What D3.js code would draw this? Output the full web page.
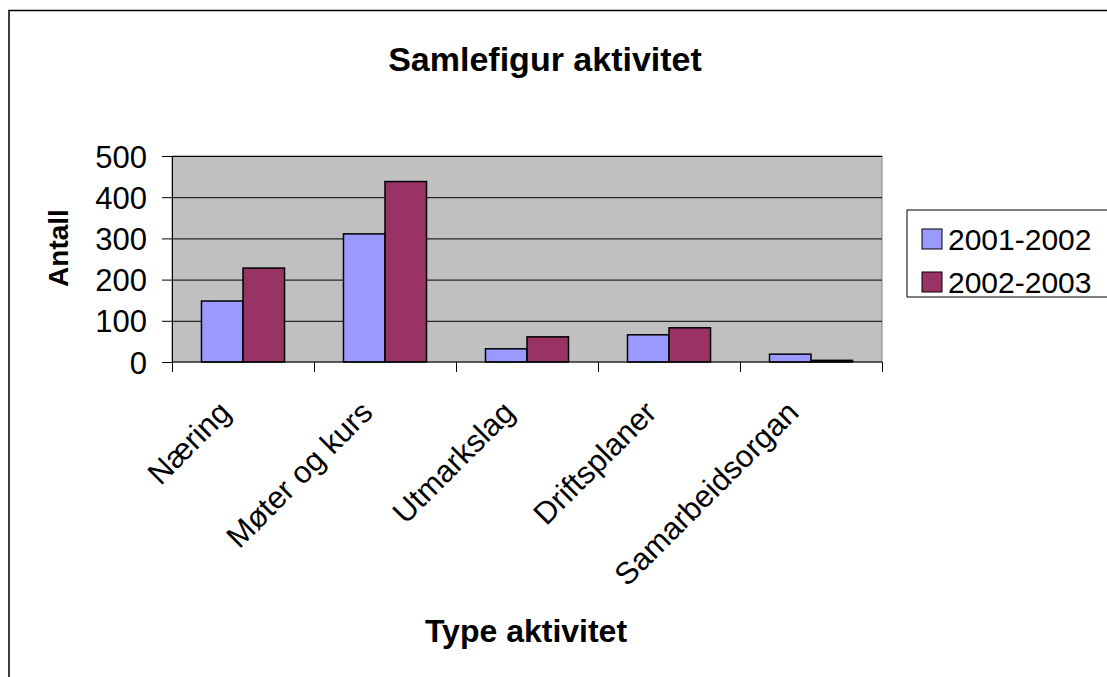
<!DOCTYPE html>
<html>
<head>
<meta charset="utf-8">
<script src="https://cdn.jsdelivr.net/npm/d3@7"></script>
<style>
  body { margin: 0; background: #fff; }
  svg { display: block; font-family: Arial, "Liberation Sans", sans-serif; }
</style>
</head>
<body>
<svg id="chart" width="1107" height="677"></svg>
<script>
// values
const categories = ["Næring", "Møter og kurs", "Utmarkslag", "Driftsplaner", "Samarbeidsorgan"];
const seriesNames = ["2001-2002", "2002-2003"];
const values2001 = [148, 311, 32, 66, 19];
const values2002 = [228, 438, 61, 83, 4];
const yTicks = [0, 100, 200, 300, 400, 500];
const colors = ["#9999FF", "#993366"];

const plotBarChart = (elemSelector) => {
    let svg = d3.select(elemSelector),
        margin = {top: 156, right: 225, bottom: 315, left: 172},
        width = +svg.attr("width") - margin.left - margin.right,
        height = +svg.attr("height") - margin.top - margin.bottom;

    let data = categories.map((c, i) => ({cat: c, vals: [values2001[i], values2002[i]]}));

    // outer frame, runs off the right and bottom edge
    svg.append("rect")
        .attr("x", 9).attr("y", 10.5)
        .attr("width", 1120).attr("height", 700)
        .attr("fill", "none").attr("stroke", "#000").attr("stroke-width", 1.5);

    let x = d3.scaleBand().domain(categories).range([0, width]),
        x1 = d3.scaleBand().domain(seriesNames).range([0, x.bandwidth()]).paddingInner(0).paddingOuter(0.71),
        y = d3.scaleLinear().domain([0, 500]).range([height, 0]);

    let g = svg.append("g").attr("transform", "translate(" + margin.left + "," + margin.top + ")");

    g.append("rect")
        .attr("width", width).attr("height", height)
        .attr("fill", "#C0C0C0").attr("stroke", "#808080").attr("stroke-width", 1);

    g.selectAll(".grid")
        .data(yTicks.filter(d => d > 0))
        .enter().append("line")
            .attr("x1", 0).attr("x2", width)
            .attr("y1", d => y(d) + 0.5).attr("y2", d => y(d) + 0.5)
            .attr("stroke", "#000").attr("stroke-width", 1);

    let groups = g.selectAll(".grp")
        .data(data)
        .enter().append("g")
            .attr("transform", d => "translate(" + x(d.cat) + ",0)");

    groups.selectAll("rect")
        .data(d => d.vals.map((v, k) => ({key: seriesNames[k], v: v, k: k})))
        .enter().append("rect")
            .attr("x", d => x1(d.key))
            .attr("y", d => y(d.v))
            .attr("width", x1.bandwidth())
            .attr("height", d => height - y(d.v))
            .attr("fill", d => colors[d.k])
            .attr("stroke", "#000").attr("stroke-width", 1.5);

    // y axis
    let yAxis = g.append("g")
        .call(d3.axisLeft(y).tickValues(yTicks).tickSize(10).tickSizeOuter(0));
    yAxis.select(".domain").attr("stroke", "#000");
    yAxis.selectAll("text")
        .attr("fill", "#000")
        .style("font-size", "31px")
        .attr("x", -25)
        .attr("dy", "0.36em");

    // x axis: ticks between categories
    let xAxis = g.append("g").attr("transform", "translate(0," + height + ")");
    xAxis.append("line").attr("x1", 0).attr("x2", width).attr("stroke", "#000");
    xAxis.selectAll(".tick")
        .data(d3.range(categories.length + 1))
        .enter().append("line")
            .attr("x1", i => i * x.bandwidth() + 0.5).attr("x2", i => i * x.bandwidth() + 0.5)
            .attr("y1", 0).attr("y2", 10)
            .attr("stroke", "#000");

    xAxis.selectAll(".lbl")
        .data(categories)
        .enter().append("text")
            .attr("transform", d => "translate(" + (x(d) + x.bandwidth() / 2 - 26) + ",37) rotate(-45)")
            .attr("text-anchor", "end")
            .attr("dy", "0.7em")
            .style("font-size", "31px")
            .text(d => d);

    // titles
    svg.append("text")
        .attr("x", 545).attr("y", 71)
        .attr("text-anchor", "middle")
        .attr("font-weight", "bold")
        .style("font-size", "34px")
        .text("Samlefigur aktivitet");

    svg.append("text")
        .attr("x", 526).attr("y", 642)
        .attr("text-anchor", "middle")
        .attr("font-weight", "bold")
        .style("font-size", "32px")
        .text("Type aktivitet");

    svg.append("text")
        .attr("transform", "translate(68,248) rotate(-90)")
        .attr("text-anchor", "middle")
        .attr("font-weight", "bold")
        .style("font-size", "28px")
        .text("Antall");

    // legend
    let legend = svg.append("g").attr("transform", "translate(907,210)");
    legend.append("rect")
        .attr("width", 205).attr("height", 87)
        .attr("fill", "#fff").attr("stroke", "#000").attr("stroke-width", 1);
    seriesNames.forEach((s, i) => {
        let row = legend.append("g").attr("transform", "translate(0," + (i * 43) + ")");
        row.append("rect")
            .attr("x", 15).attr("y", 19)
            .attr("width", 20).attr("height", 20)
            .attr("fill", colors[i]).attr("stroke", "#000").attr("stroke-width", 1);
        row.append("text")
            .attr("x", 41).attr("y", 40)
            .style("font-size", "30px")
            .text(s);
    });
}

plotBarChart("#chart");
</script>
</body>
</html>
